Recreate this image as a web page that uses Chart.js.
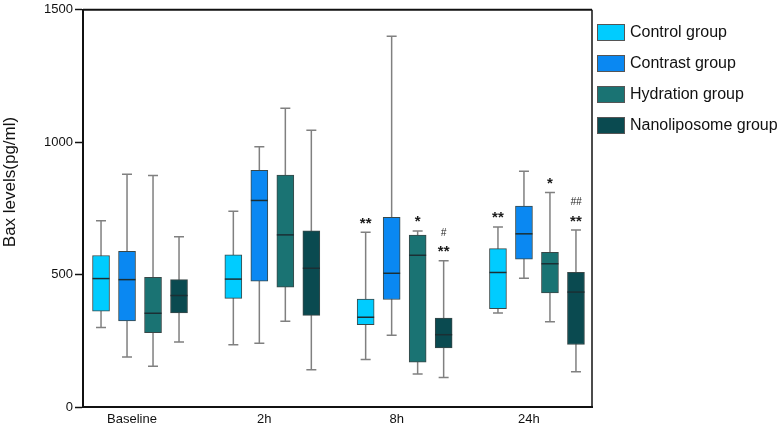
<!DOCTYPE html>
<html lang="en">
<head>
    <meta charset="UTF-8">
    <title>Bax levels</title>
    <script src="https://cdn.jsdelivr.net/npm/chart.js"></script>
    <style>
        html, body { margin: 0; padding: 0; background: #fff; }
        #wrap { width: 782px; height: 429px; position: relative; }
    </style>
</head>
<body>
    <div id="wrap"><canvas id="baxChart"></canvas></div>
    <script>
        // time points
        const timeLabels = ['Baseline', '2h', '8h', '24h'];

        // box stats per group: [min, q1, median, q3, max] for each time point
        const controlGroup = [
            [300, 362, 485, 572, 703],
            [235, 410, 483, 575, 739],
            [179, 311, 339, 408, 660],
            [355, 371, 508, 598, 680]
        ];
        const contrastGroup = [
            [189, 325, 481, 588, 879],
            [241, 475, 780, 894, 983],
            [271, 406, 505, 716, 1400],
            [486, 558, 654, 759, 890]
        ];
        const hydrationGroup = [
            [154, 281, 354, 490, 874],
            [324, 453, 650, 876, 1128],
            [125, 169, 573, 649, 665],
            [322, 431, 541, 584, 810]
        ];
        const nanoGroup = [
            [245, 355, 421, 481, 643],
            [141, 346, 524, 665, 1045],
            [111, 223, 273, 336, 552],
            [133, 236, 434, 509, 668]
        ];

        // significance marks
        const starsControl = ['', '', '**', '**'];
        const starsContrast = ['', '', '', ''];
        const starsHydration = ['', '', '*', '*'];
        const starsNano = ['', '', '**', '**'];
        const hashNano = ['', '', '#', '##'];

        const groupNames = ['Control group', 'Contrast group', 'Hydration group', 'Nanoliposome group'];
        const groupColors = ['#00ccff', '#0a88f2', '#1a7373', '#0a4a50'];

        const FONT = '"Liberation Sans", Arial, Helvetica, sans-serif';
        const groups = [controlGroup, contrastGroup, hydrationGroup, nanoGroup];
        const stars = [starsControl, starsContrast, starsHydration, starsNano];
        const hashes = [null, null, null, hashNano];

        // side by side inside each time point
        const boxStep = 0.1965;

        const datasets = groups.map((stats, k) => ({
            label: groupNames[k],
            data: stats.map((s, i) => ({ x: i + (k - 1.5) * boxStep, y: [s[1], s[3]] })),
            stats: stats,
            stars: stars[k],
            hashes: hashes[k],
            backgroundColor: groupColors[k],
            borderColor: '#3a4848',
            borderWidth: 1,
            borderSkipped: false,
            barThickness: 17,
            grouped: false
        }));

        const boxPlugin = {
            id: 'boxParts',
            beforeDatasetsDraw(chart) {
                const ctx = chart.ctx;
                const y = chart.scales.y;
                ctx.save();
                ctx.strokeStyle = '#808080';
                ctx.lineWidth = 1.5;
                chart.data.datasets.forEach((ds, k) => {
                    chart.getDatasetMeta(k).data.forEach((bar, i) => {
                        const s = ds.stats[i];
                        const yMin = y.getPixelForValue(s[0]);
                        const yMax = y.getPixelForValue(s[4]);
                        ctx.beginPath();
                        ctx.moveTo(bar.x, yMin);
                        ctx.lineTo(bar.x, yMax);
                        ctx.moveTo(bar.x - 5, yMin);
                        ctx.lineTo(bar.x + 5, yMin);
                        ctx.moveTo(bar.x - 5, yMax);
                        ctx.lineTo(bar.x + 5, yMax);
                        ctx.stroke();
                    });
                });
                ctx.restore();
            },
            afterDatasetsDraw(chart) {
                const ctx = chart.ctx;
                const y = chart.scales.y;
                ctx.save();
                chart.data.datasets.forEach((ds, k) => {
                    chart.getDatasetMeta(k).data.forEach((bar, i) => {
                        const s = ds.stats[i];
                        const half = bar.width / 2;
                        const yMed = y.getPixelForValue(s[2]);
                        ctx.strokeStyle = '#1b2f34';
                        ctx.lineWidth = 1.5;
                        ctx.beginPath();
                        ctx.moveTo(bar.x - half, yMed);
                        ctx.lineTo(bar.x + half, yMed);
                        ctx.stroke();

                        const yTop = y.getPixelForValue(s[4]);
                        ctx.fillStyle = '#1a1a1a';
                        ctx.textAlign = 'center';
                        ctx.textBaseline = 'alphabetic';
                        if (ds.stars[i]) {
                            ctx.font = 'bold 15px ' + FONT;
                            ctx.fillText(ds.stars[i], bar.x, yTop - 4.5);
                        }
                        if (ds.hashes && ds.hashes[i]) {
                            ctx.font = 'italic 10px ' + FONT;
                            ctx.fillText(ds.hashes[i], bar.x, yTop - 25);
                        }
                    });
                });
                ctx.restore();
            },
            afterDraw(chart) {
                const ctx = chart.ctx;
                const a = chart.chartArea;
                ctx.save();
                // frame top and right
                ctx.strokeStyle = '#111';
                ctx.lineWidth = 2;
                ctx.beginPath();
                ctx.moveTo(a.left, a.top);
                ctx.lineTo(a.right, a.top);
                ctx.stroke();
                ctx.lineWidth = 1.5;
                ctx.beginPath();
                ctx.moveTo(a.right, a.top);
                ctx.lineTo(a.right, a.bottom);
                ctx.stroke();

                // y axis title
                ctx.save();
                ctx.translate(10, 182);
                ctx.rotate(-Math.PI / 2);
                ctx.fillStyle = '#111';
                ctx.font = '17px ' + FONT;
                ctx.textAlign = 'center';
                ctx.textBaseline = 'middle';
                ctx.fillText('Bax levels(pg/ml)', 0, 0);
                ctx.restore();

                // legend
                chart.data.datasets.forEach((ds, k) => {
                    const top = 24 + k * 31;
                    ctx.fillStyle = ds.backgroundColor;
                    ctx.fillRect(a.right + 5, top, 28, 17);
                    ctx.strokeStyle = '#555';
                    ctx.lineWidth = 1;
                    ctx.strokeRect(a.right + 5.5, top + 0.5, 27, 16);
                    ctx.fillStyle = '#111';
                    ctx.font = '16px ' + FONT;
                    ctx.textAlign = 'left';
                    ctx.textBaseline = 'middle';
                    ctx.fillText(ds.label, a.right + 38, top + 9);
                });
                ctx.restore();
            }
        };

        const ctx = document.getElementById('baxChart').getContext('2d');
        const baxChart = new Chart(ctx, {
            type: 'bar',
            data: { datasets: datasets },
            options: {
                responsive: true,
                maintainAspectRatio: false,
                animation: false,
                layout: { padding: { top: 7, right: 190, left: 0, bottom: 0 } },
                plugins: {
                    legend: { display: false },
                    tooltip: { enabled: false }
                },
                scales: {
                    x: {
                        type: 'linear',
                        offset: false,
                        min: -0.431,
                        max: 3.416,
                        afterBuildTicks: (scale) => {
                            scale.ticks = timeLabels.map((_, i) => ({ value: i }));
                        },
                        afterFit: (scale) => { scale.height = 22; },
                        grid: { display: false, drawTicks: false },
                        border: { display: true, color: '#111', width: 2 },
                        ticks: {
                            callback: (value) => timeLabels[value],
                            color: '#111',
                            font: { family: FONT, size: 13 },
                            padding: 5,
                            labelOffset: -8,
                            maxRotation: 0
                        }
                    },
                    y: {
                        min: 0,
                        max: 1500,
                        afterFit: (scale) => { scale.width = 83; },
                        grid: {
                            drawOnChartArea: false,
                            drawTicks: true,
                            tickLength: 8,
                            tickColor: '#111',
                            tickWidth: 1.5
                        },
                        border: { display: true, color: '#111', width: 2 },
                        ticks: {
                            stepSize: 500,
                            callback: (value) => String(value),
                            color: '#111',
                            font: { family: FONT, size: 13 },
                            padding: 2
                        }
                    }
                }
            },
            plugins: [boxPlugin]
        });
    </script>
</body>
</html>
